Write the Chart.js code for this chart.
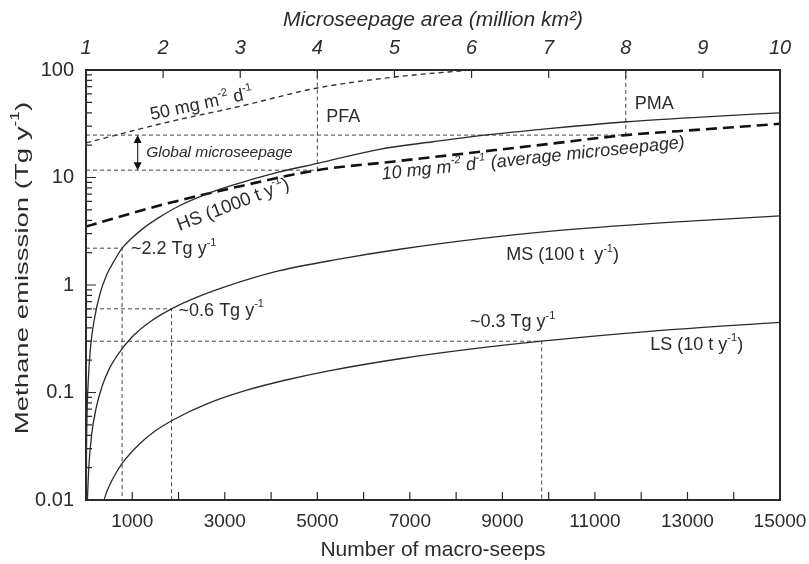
<!DOCTYPE html>
<html>
<head>
<meta charset="utf-8">
<script src="https://cdn.jsdelivr.net/npm/chart.js@4.4.0/dist/chart.umd.min.js"></script>
<style>
  html, body { margin: 0; padding: 0; background: #fff; }
</style>
</head>
<body>
<canvas id="chart" width="809" height="564"></canvas>
<script>
const FONT = '"Liberation Sans", Arial, "DejaVu Sans", sans-serif';
const INK = '#2b2b2b';

// emission curves vs number of macro-seeps (Tg per year)
const hsSeeps = [3, 10, 25, 50, 100, 180, 300, 450, 600, 780, 1000, 1250, 1600, 2000, 2600, 3100, 4160, 5030, 6340, 7500, 8520, 10000, 11700, 13300, 15000];
const hsEmission = [0.01, 0.027, 0.07, 0.13, 0.27, 0.48, 0.82, 1.25, 1.65, 2.2, 2.75, 3.4, 4.3, 5.4, 7.0, 8.3, 11.2, 13.6, 18.3, 21.5, 24.5, 28.5, 33, 36.5, 40];

const msSeeps = [30, 60, 120, 220, 350, 500, 720, 1000, 1400, 1850, 2400, 3000, 4160, 5500, 6780, 8520, 10000, 12500, 15000];
const msEmission = [0.01, 0.02, 0.04, 0.072, 0.115, 0.165, 0.235, 0.33, 0.46, 0.6, 0.77, 0.96, 1.35, 1.75, 2.15, 2.7, 3.15, 3.8, 4.4];

const lsSeeps = [390, 450, 520, 620, 785, 1150, 1500, 1930, 2600, 3440, 4300, 5250, 6780, 8300, 9850, 12500, 15000];
const lsEmission = [0.01, 0.012, 0.014, 0.017, 0.022, 0.033, 0.044, 0.057, 0.078, 0.104, 0.13, 0.159, 0.206, 0.253, 0.3, 0.38, 0.45];

// microseepage vs area (million km2)
const avgArea = [1, 2, 3, 4, 5, 6, 7, 8, 9, 10];
const avgFlux = [3.5, 5.6, 8.3, 11.7, 14.1, 17, 20.5, 24.8, 28, 31.6];
const highArea = [1, 2, 3, 4, 5, 6];
const highFlux = [21, 32, 46, 68, 86, 100];

// read-off markers
const markSeeps = [780, 1850, 9850];
const markEmission = [2.2, 0.6, 0.3];
const markLabels = ['~2.2 Tg y^{-1}', '~0.6 Tg y^{-1}', '~0.3 Tg y^{-1}'];
const globalArea = [4, 8];
const globalFlux = [11.7, 24.8];
const globalLabels = ['PFA', 'PMA'];

// axes
const seepTicks = [0, 1000, 2000, 3000, 4000, 5000, 6000, 7000, 8000, 9000, 10000, 11000, 12000, 13000, 14000, 15000];
const seepTickLabels = ['1000', '3000', '5000', '7000', '9000', '11000', '13000', '15000'];
const areaTicks = [1, 2, 3, 4, 5, 6, 7, 8, 9, 10];
const emissionMajor = [0.01, 0.1, 1, 10, 100];

const emissionTicks = [];
emissionMajor.slice(0, -1).forEach(d => {
  for (let m = 1; m <= 9; m++) emissionTicks.push(m * d);
});
emissionTicks.push(100);

const pts = (xs, ys) => xs.map((x, i) => ({ x, y: ys[i] }));

const curve = (label, xs, ys) => ({
  label, data: pts(xs, ys), xAxisID: 'x',
  borderColor: INK, borderWidth: 1.3, pointRadius: 0, fill: false,
  cubicInterpolationMode: 'monotone'
});

const guide = (data, axis) => ({
  data, xAxisID: axis,
  borderColor: '#444', borderWidth: 1, borderDash: [4, 3],
  pointRadius: 0, fill: false, tension: 0
});

const datasets = [
  curve('HS', hsSeeps, hsEmission),
  curve('MS', msSeeps, msEmission),
  curve('LS', lsSeeps, lsEmission),
  {
    label: '10 mg', data: pts(avgArea, avgFlux), xAxisID: 'x2',
    borderColor: '#111', borderWidth: 2.6, borderDash: [11, 6],
    pointRadius: 0, fill: false, cubicInterpolationMode: 'monotone'
  },
  {
    label: '50 mg', data: pts(highArea, highFlux), xAxisID: 'x2',
    borderColor: '#333', borderWidth: 1.4, borderDash: [5, 4],
    pointRadius: 0, fill: false, cubicInterpolationMode: 'monotone'
  }
];
markSeeps.forEach((s, i) => {
  datasets.push(guide([{ x: 0, y: markEmission[i] }, { x: s, y: markEmission[i] }, { x: s, y: 0.01 }], 'x'));
});
globalArea.forEach((a, i) => {
  datasets.push(guide([{ x: 1, y: globalFlux[i] }, { x: a, y: globalFlux[i] }, { x: a, y: 100 }], 'x2'));
});

// text with ^{...} superscripts
function drawRich(ctx, str, x, y, size, opts = {}) {
  const style = opts.italic ? 'italic ' : '';
  const parts = [];
  str.split(/(\^\{[^}]*\})/).forEach(p => {
    if (!p) return;
    if (p.startsWith('^{')) parts.push({ t: p.slice(2, -1), sup: true });
    else parts.push({ t: p, sup: false });
  });
  const fontFor = sup => `${style}${sup ? Math.round(size * 0.62) : size}px ${FONT}`;
  let w = 0;
  parts.forEach(p => { ctx.font = fontFor(p.sup); p.w = ctx.measureText(p.t).width; w += p.w; });
  ctx.save();
  ctx.translate(x, y);
  ctx.rotate((opts.angle || 0) * Math.PI / 180);
  if (opts.stretch) ctx.scale(opts.stretch, 1);
  ctx.fillStyle = INK;
  ctx.textAlign = 'left';
  ctx.textBaseline = 'middle';
  let cx = opts.align === 'left' ? 0 : opts.align === 'right' ? -w : -w / 2;
  parts.forEach(p => {
    ctx.font = fontFor(p.sup);
    ctx.fillText(p.t, cx, p.sup ? -size * 0.36 : 0);
    cx += p.w;
  });
  ctx.restore();
}

const frame = {
  id: 'frame',
  afterDatasetsDraw(chart) {
    const { ctx, chartArea: a, scales } = chart;
    const { x, x2, y } = scales;
    ctx.save();
    ctx.strokeStyle = INK;
    ctx.lineWidth = 1.2;
    ctx.beginPath();
    emissionTicks.forEach(v => {
      const py = y.getPixelForValue(v);
      const len = emissionMajor.includes(v) ? 10 : 6;
      ctx.moveTo(a.left, py); ctx.lineTo(a.left + len, py);
    });
    seepTicks.slice(1, -1).forEach(v => {
      const px = x.getPixelForValue(v);
      ctx.moveTo(px, a.bottom); ctx.lineTo(px, a.bottom - 8);
    });
    areaTicks.slice(1, -1).forEach(v => {
      const px = x2.getPixelForValue(v);
      ctx.moveTo(px, a.top); ctx.lineTo(px, a.top + 8);
    });
    ctx.stroke();
    ctx.lineWidth = 2;
    ctx.strokeRect(a.left, a.top, a.right - a.left, a.bottom - a.top);

    // global microseepage arrow
    const ax = x2.getPixelForValue(1.67);
    const y1 = y.getPixelForValue(globalFlux[1]);
    const y2 = y.getPixelForValue(globalFlux[0]);
    ctx.lineWidth = 1.2;
    ctx.beginPath();
    ctx.moveTo(ax, y1 + 4); ctx.lineTo(ax, y2 - 4);
    ctx.stroke();
    ctx.fillStyle = '#111';
    ctx.beginPath();
    ctx.moveTo(ax, y1); ctx.lineTo(ax - 4, y1 + 8); ctx.lineTo(ax + 4, y1 + 8); ctx.closePath();
    ctx.moveTo(ax, y2); ctx.lineTo(ax - 4, y2 - 8); ctx.lineTo(ax + 4, y2 - 8); ctx.closePath();
    ctx.fill();
    ctx.restore();

    // y axis title, drawn tall like the source figure
    drawRich(ctx, 'Methane emisssion (Tg y^{-1})', 23, 268, 19, { angle: -90, stretch: 1.45 });

    drawRich(ctx, 'Global microseepage', x2.getPixelForValue(1.78), y.getPixelForValue(16.9), 15.5, { italic: true, align: 'left' });
    drawRich(ctx, '50 mg m^{-2} d^{-1}', x2.getPixelForValue(2.5), y.getPixelForValue(48), 18, { angle: -12 });
    drawRich(ctx, '10 mg m^{-2} d^{-1} (average microseepage)', x2.getPixelForValue(6.8), y.getPixelForValue(15), 18, { italic: true, angle: -6 });
    drawRich(ctx, 'HS (1000 t y^{-1})', x.getPixelForValue(3180), y.getPixelForValue(5.55), 18.5, { angle: -21 });
    drawRich(ctx, 'MS (100 t  y^{-1})', x.getPixelForValue(10300), y.getPixelForValue(1.9), 18);
    drawRich(ctx, 'LS (10 t y^{-1})', x.getPixelForValue(13200), y.getPixelForValue(0.277), 18);

    globalLabels.forEach((t, i) => {
      drawRich(ctx, t, x2.getPixelForValue(globalArea[i]) + 9, a.top + (i === 0 ? 47 : 34), 18, { align: 'left' });
    });
    const offs = [[9, 1, 'left'], [7, 2, 'left'], [-29, -19, 'center']];
    markLabels.forEach((t, i) => {
      const px = x.getPixelForValue(markSeeps[i]);
      const py = y.getPixelForValue(markEmission[i]);
      drawRich(ctx, t, px + offs[i][0], py + offs[i][1], 18, { align: offs[i][2] });
    });
  }
};

const noSidePad = s => { s.paddingLeft = 0; s.paddingRight = 0; };

new Chart(document.getElementById('chart'), {
  type: 'line',
  data: { datasets },
  plugins: [frame],
  options: {
    responsive: false,
    animation: false,
    devicePixelRatio: 1,
    layout: { padding: { right: 29 } },
    plugins: { legend: { display: false }, tooltip: { enabled: false } },
    scales: {
      x: {
        type: 'linear', position: 'bottom', min: 0, max: 15000,
        afterBuildTicks: s => { s.ticks = seepTicks.map(v => ({ value: v })); },
        afterFit: s => { s.height = 64; noSidePad(s); },
        grid: { display: false, drawTicks: false },
        border: { display: false },
        ticks: {
          autoSkip: false, maxRotation: 0, padding: 10, color: INK,
          font: { family: FONT, size: 19 },
          callback: v => seepTickLabels.includes(String(v)) ? String(v) : ''
        },
        title: {
          display: true, text: 'Number of macro-seeps', color: INK,
          font: { family: FONT, size: 21 }, padding: { top: 0, bottom: 1 }
        }
      },
      x2: {
        type: 'linear', position: 'top', min: 1, max: 10,
        afterBuildTicks: s => { s.ticks = areaTicks.map(v => ({ value: v })); },
        afterFit: s => { s.height = 70; noSidePad(s); },
        grid: { display: false, drawTicks: false },
        border: { display: false },
        ticks: {
          autoSkip: false, maxRotation: 0, padding: 10, color: INK,
          font: { family: FONT, size: 20, style: 'italic' }
        },
        title: {
          display: true, text: 'Microseepage area (million km²)', color: INK,
          font: { family: FONT, size: 21, style: 'italic' }, padding: { top: 8, bottom: 0 }
        }
      },
      y: {
        type: 'logarithmic', position: 'left', min: 0.01, max: 100,
        afterBuildTicks: s => { s.ticks = emissionTicks.map(v => ({ value: v })); },
        afterFit: s => { s.width = 86; s.paddingTop = 0; s.paddingBottom = 0; },
        grid: { display: false, drawTicks: false },
        border: { display: false },
        ticks: {
          autoSkip: false, padding: 12, color: INK,
          font: { family: FONT, size: 20 },
          callback: v => emissionMajor.includes(v) ? String(v) : ''
        },
        title: { display: false }
      }
    }
  }
});
</script>
</body>
</html>
